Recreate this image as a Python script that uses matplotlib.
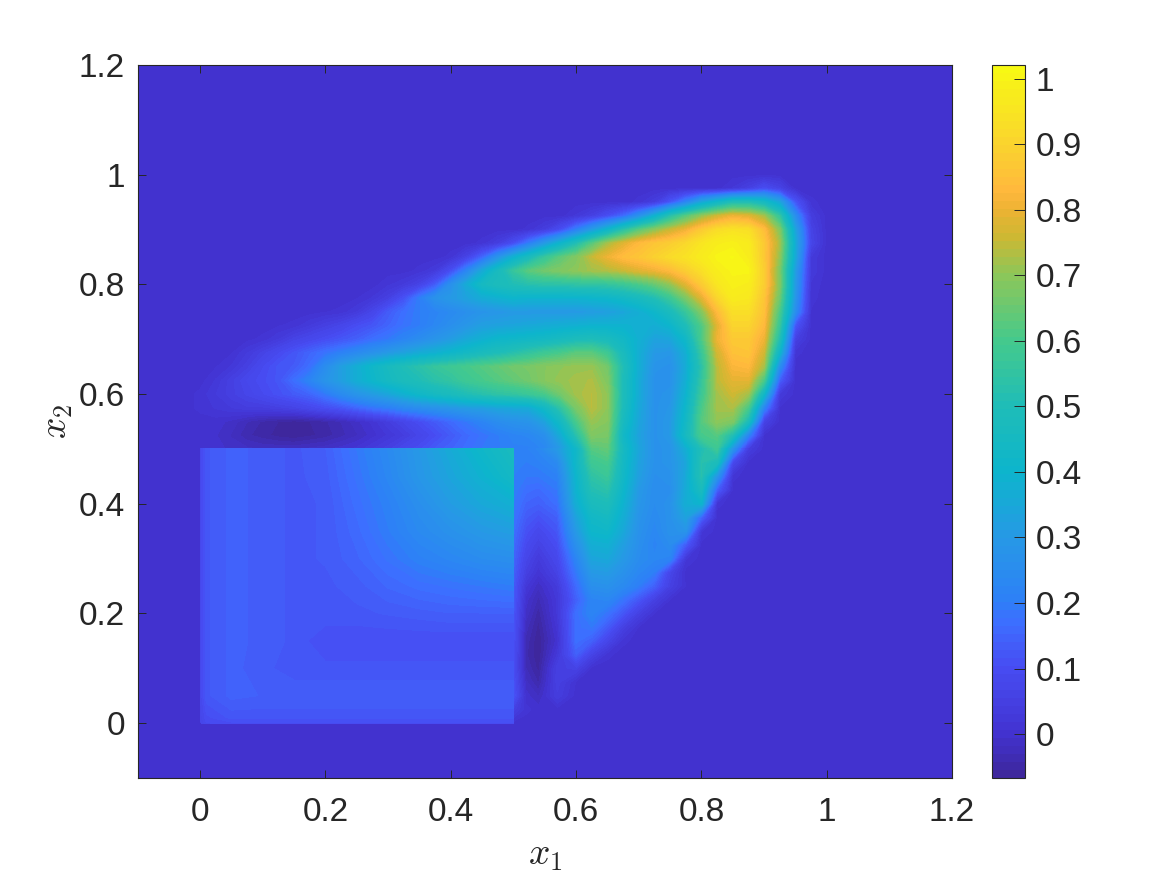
import matplotlib
matplotlib.use("Agg")
import matplotlib.pyplot as plt
from matplotlib.colors import LinearSegmentedColormap, Normalize
import numpy as np

plt.rcParams['font.family'] = ['Liberation Sans', 'DejaVu Sans']
plt.rcParams['mathtext.fontset'] = 'cm'


def row(n_zero, *vals, size):
    return [0] * n_zero + list(vals) + [0] * (size - n_zero - len(vals))


# ---- plume above the square: x = -.025 .. 1.0 step .025, y = 1.0 .. .5 step .025
top_x = [-.025, 0, .025, .05, .075, .1, .125, .15, .175, .2, .225, .25, .275, .3, .325, .35, .375, .4, .425, .45, .475,
         .5, .525, .55, .575, .6, .625, .65, .675, .7, .725, .75, .775, .8, .825, .85, .875, .9, .925, .95, .975, 1.0]
top_y = [1.0, .975, .95, .925, .9, .875, .85, .825, .8, .775, .75, .725, .7, .675, .65, .625, .6, .575, .55, .525, .5]
N = len(top_x)
top_rows = [
    row(0, size=N),
    row(35, .02, .05, .1, .06, size=N),
    row(29, .01, .04, .12, .22, .34, .42, .5, .5, .45, .34, .12, .01, size=N),
    row(25, .02, .05, .1, .16, .26, .38, .52, .62, .7, .76, .8, .78, .72, .55, .25, .04, size=N),
    row(22, .01, .04, .1, .2, .3, .4, .52, .62, .69, .75, .8, .87, .92, .94, .93, .84, .68, .33, .06, size=N),
    row(19, .01, .04, .1, .2, .3, .4, .5, .62, .72, .78, .83, .86, .88, .91, .95, .98, .99, .97, .87, .72, .36, .07, size=N),
    row(17, .01, .06, .15, .27, .38, .47, .56, .63, .68, .75, .8, .84, .86, .89, .92, .94, .97, 1.0, 1.01, .98, .87, .7, .35, .03, size=N),
    row(15, .01, .03, .1, .22, .35, .46, .56, .63, .66, .68, .7, .72, .73, .75, .78, .8, .83, .88, .93, .98, 1.0, 1.0, .88, .67, .31, .03, size=N),
    row(13, .015, .03, .06, .13, .26, .36, .45, .48, .5, .52, .53, .53, .54, .54, .55, .57, .6, .64, .7, .78, .87, .95, .99, .98, .88, .68, .3, .015, size=N),
    row(11, .005, .02, .05, .11, .2, .27, .3, .33, .36, .38, .4, .39, .39, .39, .39, .4, .41, .43, .46, .5, .57, .67, .78, .9, .97, .96, .86, .65, .28, .01, size=N),
    row(9, .005, .01, .03, .07, .13, .17, .2, .22, .24, .26, .28, .29, .3, .3, .3, .3, .3, .31, .32, .34, .37, .41, .47, .56, .68, .83, .93, .93, .85, .6, .25, .005, size=N),
    row(6, .005, .01, .03, .05, .07, .1, .12, .15, .18, .2, .23, .26, .29, .32, .33, .34, .35, .36, .37, .38, .39, .39, .39, .38, .37, .4, .49, .61, .78, .9, .9, .83, .56, .12, size=N),
    row(4, .002, .01, .03, .06, .08, .1, .12, .14, .17, .19, .22, .25, .28, .31, .35, .38, .41, .42, .43, .44, .46, .48, .49, .47, .43, .38, .33, .34, .42, .6, .8, .87, .87, .8, .5, .05, size=N),
    row(3, .005, .03, .06, .09, .12, .15, .18, .21, .24, .27, .3, .33, .36, .38, .41, .44, .47, .49, .52, .55, .58, .6, .63, .63, .58, .47, .37, .3, .29, .37, .56, .76, .85, .86, .76, .4, .01, size=N),
    row(2, .005, .02, .05, .09, .12, .13, .17, .25, .32, .37, .42, .46, .5, .53, .56, .58, .6, .62, .64, .66, .67, .69, .7, .71, .71, .66, .5, .37, .28, .27, .36, .53, .74, .82, .83, .72, .25, size=N),
    row(2, .02, .05, .08, .1, .12, .17, .22, .28, .32, .37, .41, .45, .48, .5, .53, .55, .58, .6, .62, .64, .66, .69, .71, .72, .73, .68, .49, .36, .27, .27, .37, .55, .74, .79, .79, .6, .14, size=N),
    row(1, .01, .03, .05, .07, .09, .11, .13, .15, .19, .24, .28, .31, .34, .38, .42, .45, .47, .5, .52, .54, .55, .57, .6, .66, .72, .74, .7, .49, .36, .27, .28, .39, .57, .72, .76, .72, .42, .03, size=N),
    row(1, .01, .02, .03, .04, .04, .05, .06, .08, .1, .12, .15, .18, .2, .23, .25, .27, .29, .31, .32, .34, .35, .36, .43, .54, .67, .74, .7, .48, .35, .27, .29, .41, .6, .72, .73, .6, .22, .005, size=N),
    row(1, 0, 0, -.01, -.03, -.045, -.055, -.06, -.055, -.045, -.03, -.01, .01, .04, .07, .1, .13, .16, .19, .22, .25, .27, .28, .33, .44, .6, .71, .69, .46, .34, .27, .3, .43, .62, .7, .68, .48, .06, size=N),
    row(1, 0, -.005, -.02, -.04, -.05, -.06, -.066, -.058, -.05, -.035, -.02, 0, .02, .04, .07, .1, .13, .16, .18, .2, .22, .23, .26, .36, .52, .68, .67, .43, .33, .27, .3, .45, .6, .62, .5, .22, .005, size=N),
    row(1, 0, 0, -.01, -.015, -.02, -.02, -.02, -.015, -.01, 0, .01, .03, .05, .08, .1, .13, .15, .17, .19, .2, .21, .21, .23, .3, .42, .62, .64, .45, .34, .27, .28, .37, .5, .58, .28, .04, size=N),
]

# ---- right of the square: x = .5 .. 1.0, y = .5 .. 0
right_x = [.5, .52, .54, .57, .6, .625, .65, .675, .7, .725, .75, .775, .8, .825, .85, .875, .9, .925, .95, 1.0]
right_y = [.5, .475, .45, .425, .4, .375, .35, .325, .3, .275, .25, .225, .2, .175, .15, .125, .1, .075, .05, .025, 0]
M = len(right_x)
right_rows = [
    row(0, .21, .21, .23, .3, .42, .62, .64, .45, .34, .27, .28, .37, .5, .58, .28, .04, size=M),
    row(0, .22, .2, .21, .24, .42, .58, .6, .44, .33, .27, .28, .34, .52, .48, .08, size=M),
    row(0, .2, .19, .19, .21, .4, .54, .57, .43, .32, .26, .27, .35, .52, .28, .01, size=M),
    row(0, .2, .17, .16, .19, .39, .51, .53, .41, .3, .25, .26, .36, .47, .14, size=M),
    row(0, .19, .15, .14, .17, .37, .47, .49, .39, .29, .25, .27, .37, .4, .01, size=M),
    row(0, .18, .13, .11, .14, .33, .43, .45, .37, .28, .24, .27, .33, .15, size=M),
    row(0, .17, .11, .08, .12, .3, .41, .42, .35, .27, .23, .27, .28, .02, size=M),
    row(0, .16, .09, .055, .1, .26, .37, .38, .32, .26, .22, .25, .13, size=M),
    row(0, .15, .07, .03, .08, .22, .34, .35, .3, .25, .23, .22, .02, size=M),
    row(0, .14, .05, .01, .06, .19, .3, .31, .27, .23, .2, .07, size=M),
    row(0, .13, .02, -.015, .03, .16, .26, .27, .24, .2, .14, .05, .005, size=M),
    row(0, .13, 0, -.035, .02, .14, .22, .23, .18, .12, .05, .005, size=M),
    row(0, .12, -.01, -.05, .02, .17, .22, .18, .12, .05, .005, size=M),
    row(0, .12, -.025, -.06, .01, .17, .19, .13, .05, .005, size=M),
    row(0, .11, -.035, -.066, 0, .17, .14, .07, .01, size=M),
    row(0, .11, -.04, -.066, .02, .14, .06, .01, size=M),
    row(0, .1, -.03, -.06, .05, .06, size=M),
    row(0, .11, -.015, -.045, .05, .005, size=M),
    row(0, .12, 0, -.02, .04, size=M),
    row(0, .05, .01, size=M),
    row(0, size=M),
]

# ---- the square
sq_x = [0, .01, .05, .1, .15, .2, .25, .3, .35, .4, .45, .5]
sq_y = [.5, .45, .4, .35, .3, .25, .2, .15, .1, .05, .01, 0]
sq_rows = [
    [.08, .125, .145, .137, .125, .14, .19, .24, .3, .36, .42, .47],
    [.08, .125, .145, .137, .125, .135, .18, .23, .29, .34, .39, .44],
    [.08, .125, .145, .137, .125, .13, .17, .21, .26, .31, .35, .38],
    [.08, .125, .145, .137, .125, .13, .16, .2, .24, .27, .3, .32],
    [.08, .125, .145, .137, .125, .13, .15, .18, .21, .23, .25, .26],
    [.08, .125, .145, .137, .125, .125, .135, .155, .17, .18, .19, .2],
    [.08, .125, .145, .137, .125, .125, .125, .13, .135, .14, .14, .14],
    [.08, .125, .145, .137, .125, .105, .105, .105, .105, .105, .105, .105],
    [.08, .125, .145, .133, .12, .12, .12, .12, .12, .12, .12, .12],
    [.08, .125, .145, .14, .14, .14, .14, .14, .14, .14, .14, .14],
    [.07, .1, .12, .12, .12, .12, .12, .12, .12, .12, .12, .12],
    [.06, .09, .1, .1, .1, .1, .1, .1, .1, .1, .1, .1],
]

x_ticks = [0, .2, .4, .6, .8, 1, 1.2]
y_ticks = [0, .2, .4, .6, .8, 1, 1.2]
tick_labels = ['0', '0.2', '0.4', '0.6', '0.8', '1', '1.2']
cbar_ticks = [0, .1, .2, .3, .4, .5, .6, .7, .8, .9, 1]
cbar_labels = ['0', '0.1', '0.2', '0.3', '0.4', '0.5', '0.6', '0.7', '0.8', '0.9', '1']

clim = (-0.067, 1.021)
cmap_values = [-.067, 0, .1, .17, .2, .3, .4, .5, .6, .7, .76, .8, .83, .9, 1.021]
cmap_colors = [(.24, .15, .6), (.26, .2, .82), (.28, .3, .95), (.24, .43, 1.0), (.18, .5, .97), (.15, .6, .9),
               (.05, .71, .8), (.12, .74, .72), (.27, .79, .55), (.55, .78, .35), (.8, .72, .2), (.93, .7, .2),
               (1, .72, .24), (.98, .83, .18), (.97, .98, .07)]
norm = Normalize(*clim)
parula = LinearSegmentedColormap.from_list('parula', [(float(norm(v)), c) for v, c in zip(cmap_values, cmap_colors)], N=256)

W, H = 1167, 875
fig = plt.figure(figsize=(W / 100, H / 100), dpi=100)
ax = fig.add_axes([137.5 / W, (H - 778) / H, 814.5 / W, 713 / H])
cax = fig.add_axes([991.5 / W, (H - 778) / H, 33 / W, 713 / H])

levels = np.linspace(*clim, 90)
ax.set_facecolor(parula(norm(0.0)))
cs = ax.contourf(top_x, top_y, np.array(top_rows, dtype=float), levels=levels, cmap=parula, norm=norm)
ax.contourf(right_x, right_y, np.array(right_rows, dtype=float), levels=levels, cmap=parula, norm=norm)
ax.contourf(sq_x, sq_y, np.array(sq_rows, dtype=float), levels=levels, cmap=parula, norm=norm)

ax.set_xlim(-.1, 1.2)
ax.set_ylim(-.1, 1.2)
ax.set_xticks(x_ticks, tick_labels)
ax.set_yticks(y_ticks, tick_labels)
ax.tick_params(axis='both', direction='in', length=6, width=0.7, top=True, right=True, labelsize=24,
               labelcolor='#262626', color='#262626')
ax.tick_params(axis='x', pad=14)
ax.tick_params(axis='y', pad=9)
ax.set_xlabel(r'$x_1$', fontsize=27, color='#262626', labelpad=6)
ax.set_ylabel(r'$x_2$', fontsize=27, color='#262626', labelpad=3)
for s in ax.spines.values():
    s.set_linewidth(0.8)
    s.set_color('#262626')

cb = fig.colorbar(cs, cax=cax, ticks=cbar_ticks)
cb.ax.set_yticklabels(cbar_labels)
cb.ax.tick_params(direction='in', length=8, width=0.7, labelsize=24, labelcolor='#262626', color='#262626', pad=8)
cb.outline.set_linewidth(0.8)
cb.outline.set_edgecolor('#262626')

fig.savefig('out.png', dpi=100)
